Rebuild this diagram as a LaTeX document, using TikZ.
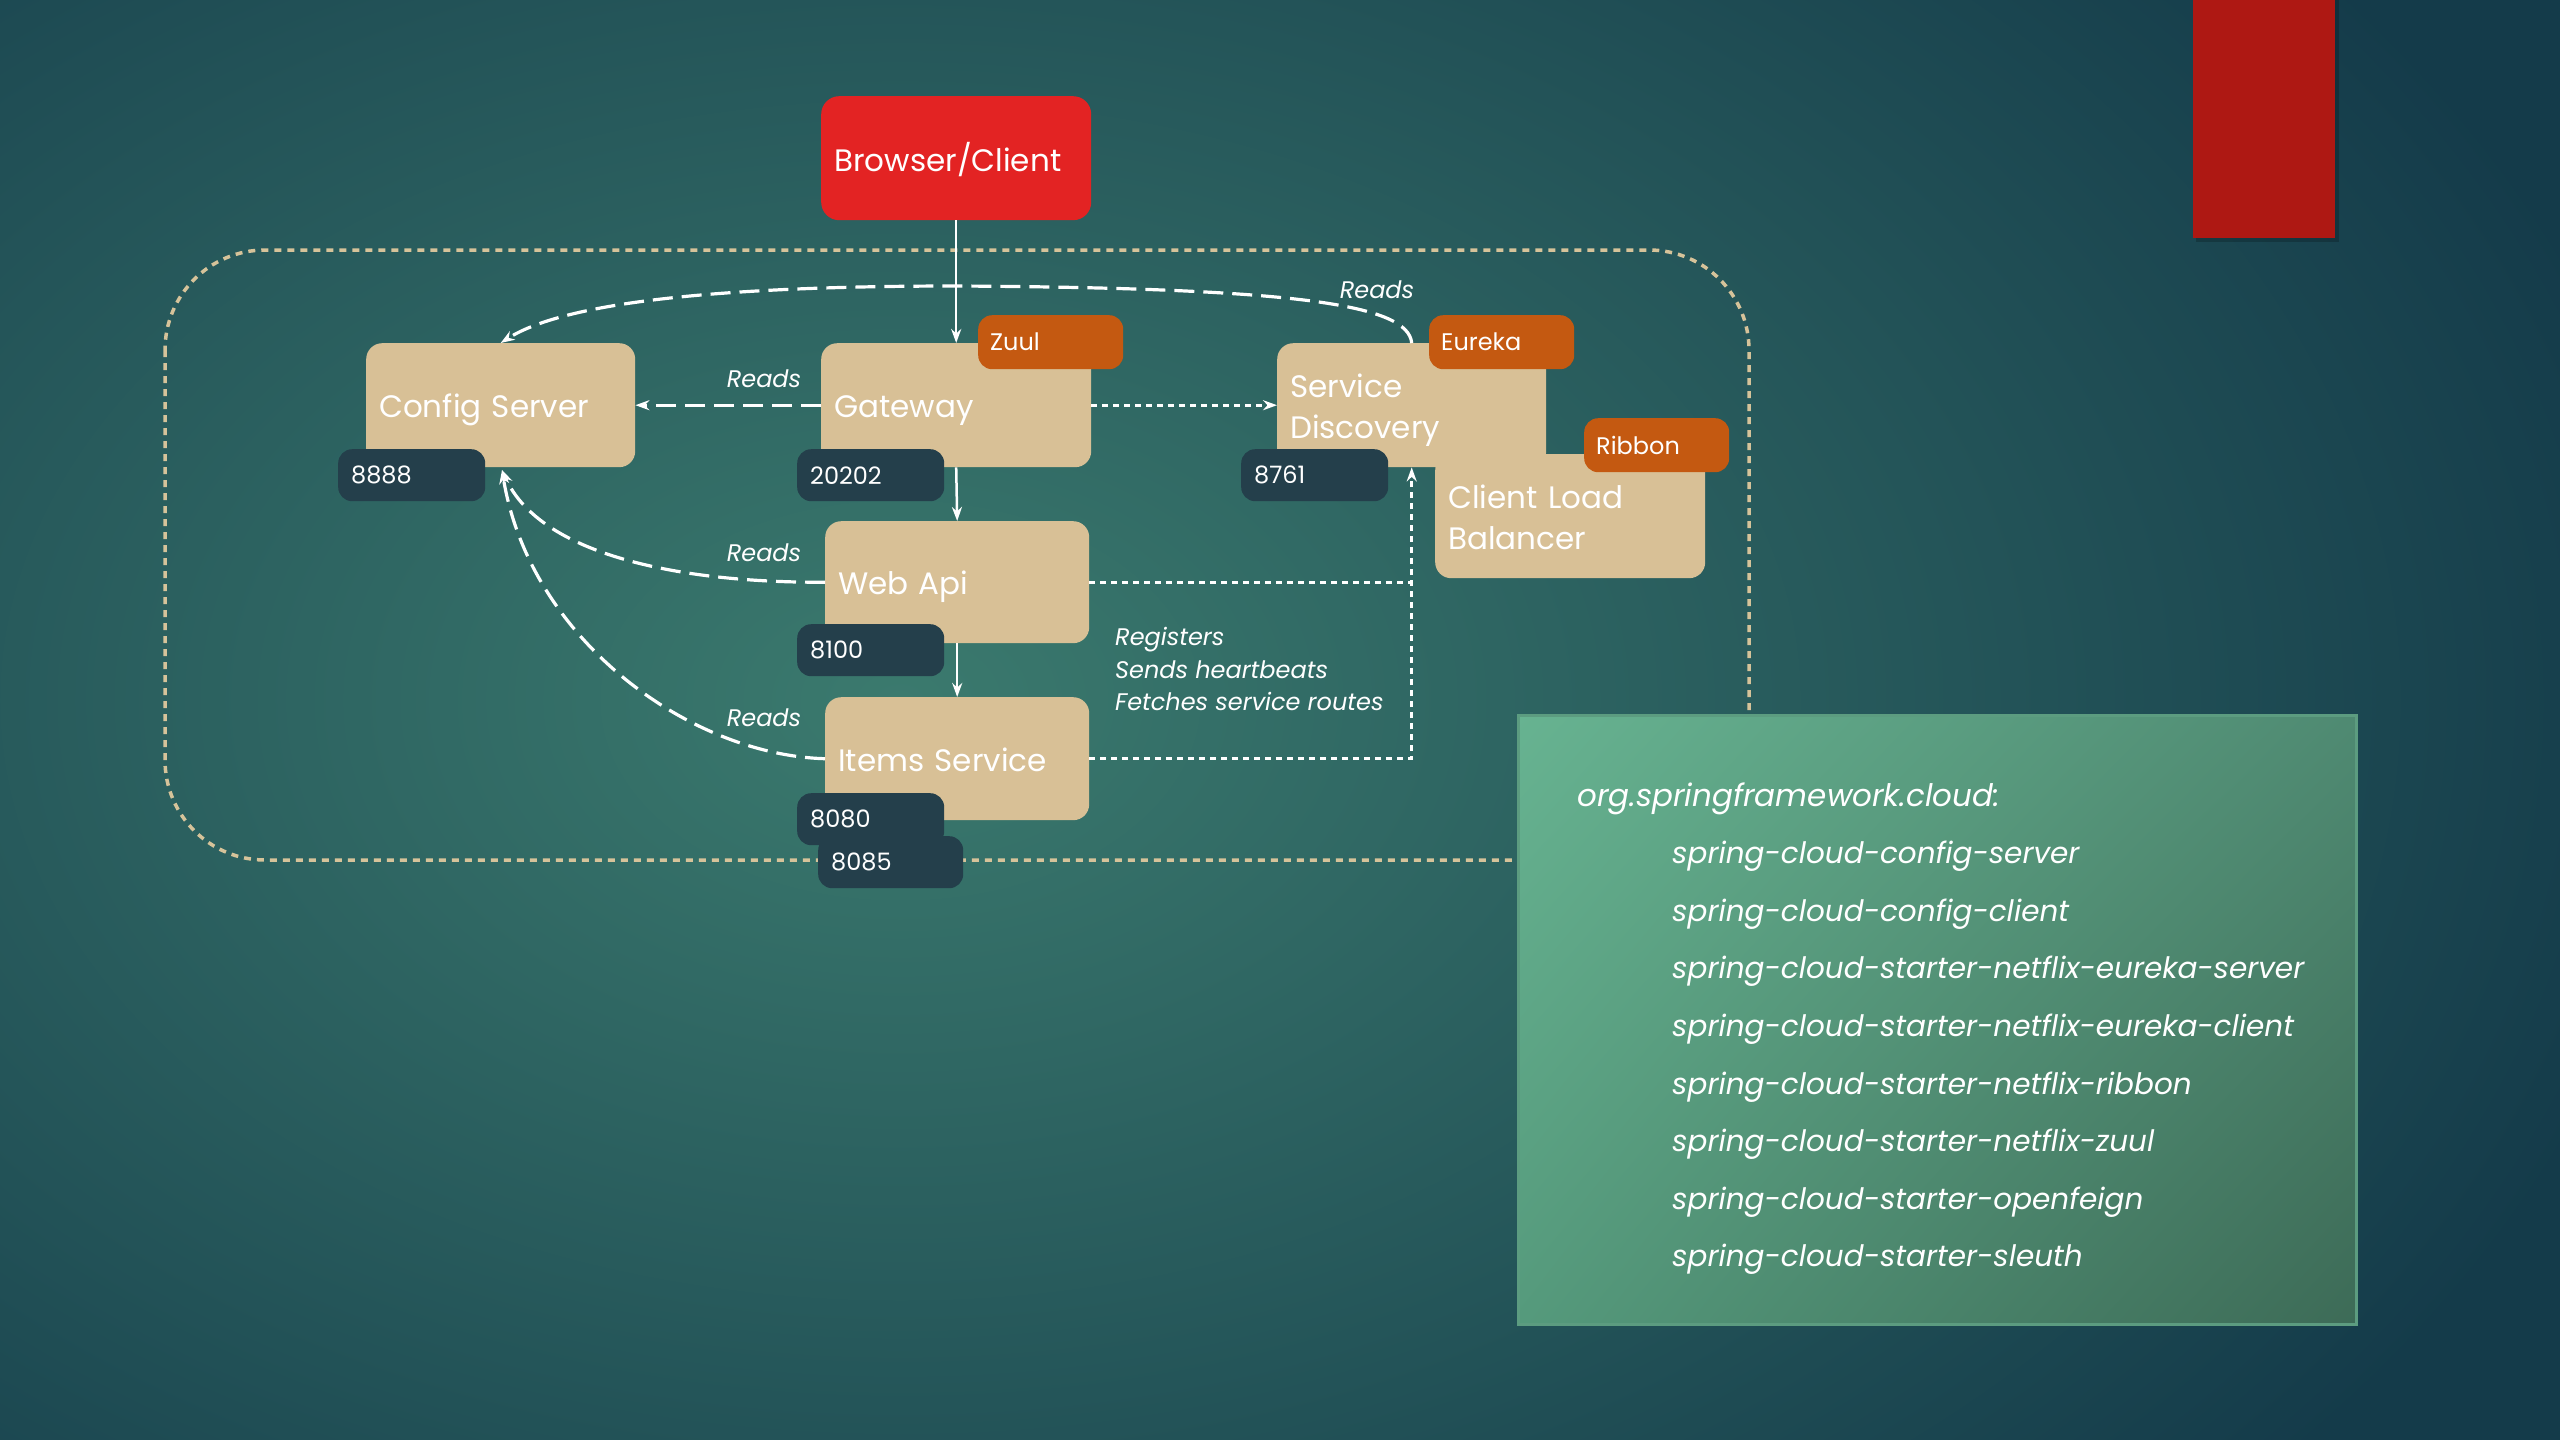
\documentclass[tikz,border=0pt]{standalone}
\usepackage{fontspec}
\setmainfont{Poppins}
\usetikzlibrary{arrows.meta,shadings}
\definecolor{tanc}{HTML}{D8C096}
\definecolor{portc}{HTML}{243F4B}
\definecolor{orangec}{HTML}{C45911}
\definecolor{redc}{HTML}{E32323}
\definecolor{barc}{HTML}{AE1813}
\definecolor{bgin}{HTML}{3B7A6E}
\definecolor{bgout}{HTML}{143B4A}
\definecolor{frame}{HTML}{D6C39A}
\definecolor{gUL}{HTML}{67B391}
\definecolor{gUR}{HTML}{4F8A72}
\definecolor{gLL}{HTML}{559A7C}
\definecolor{gLR}{HTML}{3D6B57}
\definecolor{gborder}{HTML}{5C9C80}
\begin{document}
\begin{tikzpicture}[x=1pt,y=-1pt,
  tanbox/.style={fill=tanc, rounded corners=16pt, anchor=north west, inner xsep=13pt, inner ysep=0pt, align=left, text=white, font=\fontsize{31}{39}\selectfont,
    execute at begin node={\rule[-7pt]{0pt}{40pt}}, execute at end node={\rule[-7pt]{0pt}{40pt}}},
  tag/.style={fill=orangec, rounded corners=14pt, anchor=north west, minimum height=54pt, text width=121pt, inner xsep=12pt, inner ysep=0pt, align=left, text=white, font=\fontsize{24}{29}\selectfont},
  port/.style={fill=portc, rounded corners=14pt, anchor=north west, minimum height=52pt, text width=121pt, inner xsep=13pt, inner ysep=0pt, align=left, text=white, font=\fontsize{24}{29}\selectfont},
  lbl/.style={text=white, font=\fontsize{24}{32.5}\selectfont\itshape, inner sep=0pt},
  dashline/.style={draw=white, line width=3.2pt, dash pattern=on 20pt off 9pt},
  dotline/.style={draw=white, line width=3pt, dash pattern=on 6pt off 5pt},
  tip/.style={-{Stealth[length=14pt,width=10pt]}},
  pkg/.style={text=white, font=\fontsize{29.5}{40}\selectfont\itshape, inner sep=0pt, anchor=base west}
]
\useasboundingbox (0,0) rectangle (2560,1440);
% background
\begin{scope}
\clip (0,0) rectangle (2560,1440);
\shade[inner color=bgin, outer color=bgout] (-900,-500) rectangle (2700,1900);
\end{scope}
% red bar
\fill[black, opacity=0.2] (2196,0) rectangle (2339,242);
\fill[barc] (2193,0) rectangle (2335,238);
% container
\draw[frame, line width=3.5pt, dash pattern=on 7pt off 6pt, rounded corners=100pt] (165,250) rectangle (1749,860);
% green box
\shade[upper left=gUL, upper right=gUR, lower left=gLL, lower right=gLR] (1518,715) rectangle (2356,1324);
\draw[gborder, line width=3pt] (1518,715) rectangle (2356,1324);
\node[pkg, font=\fontsize{31}{40}\selectfont\itshape] (p0) at (1577,806) {org.springframework.cloud:};
\foreach \t [count=\i] in {spring-cloud-config-server,spring-cloud-config-client,spring-cloud-starter-netflix-eureka-server,spring-cloud-starter-netflix-eureka-client,spring-cloud-starter-netflix-ribbon,spring-cloud-starter-netflix-zuul,spring-cloud-starter-openfeign,spring-cloud-starter-sleuth}
  \node[pkg] (p\i) at (1672,806+57.6*\i) {\t};
% nodes
\node[tanbox, fill=redc, rounded corners=18pt, text width=244pt, minimum height=124pt] (browser) at (821,96) {Browser/Client};
\node[tanbox, text width=243pt, minimum height=124pt] (config) at (366,343) {Config Server};
\node[port] (p8888) at (338,449) {8888};
\node[tanbox, text width=244pt, minimum height=124pt] (gateway) at (821,343) {Gateway};
\node[tag] (zuul) at (978,315) {Zuul};
\node[port] (p20202) at (797,449) {20202};
\node[tanbox, text width=243pt, minimum height=124pt] (sd) at (1277,343) {Service\\Discovery};
\node[tanbox, text width=244pt, minimum height=124pt] (clb) at (1435,454) {Client Load\\Balancer};
\node[tag] (eureka) at (1429,315) {Eureka};
\node[tag] (ribbon) at (1584,418) {Ribbon};
\node[port] (p8761) at (1241,449) {8761};
\node[tanbox, text width=238pt, minimum height=122pt] (webapi) at (825,521) {Web Api};
\node[port] (p8100) at (797,624) {8100};
\node[tanbox, text width=238pt, minimum height=123pt] (items) at (825,697) {Items Service};
\node[port] (p8080) at (797,793) {8080};
\node[port, text width=119pt] (p8085) at (818,836) {8085};
% connectors
\draw[white, line width=2.5pt, tip] (browser.south) -- (gateway.north);
\draw[white, line width=2.5pt, tip] (gateway.south) -- (webapi.north);
\draw[white, line width=2.5pt, tip] (webapi.south) -- (items.north);
\draw[dashline, tip] (gateway.west) -- (config.east);
\draw[dotline, tip] (gateway.east) -- (sd.west);
\coordinate (cin) at (502,470);
\draw[dashline, tip] (sd.north) .. controls (1408,305) and (1300,288) .. (957,286) .. controls (700,286) and (560,305) .. (config.north);
\draw[dashline, tip] (webapi.west) .. controls (680,583) and (540,555) .. (cin);
\draw[dashline, tip] (items.west) .. controls (690,755) and (530,640) .. (cin);
\draw[dotline] (webapi.east) -- (webapi.east -| sd.south);
\draw[dotline, tip] (items.east) -| (sd.south);
% labels
\node[lbl] (r1) at (764,379) {Reads};
\node[lbl] (r2) at (1377,290) {Reads};
\node[lbl] (r3) at (764,553) {Reads};
\node[lbl] (r4) at (764,718) {Reads};
\node[lbl, align=left, anchor=west] (reg) at (1115,669) {Registers\\Sends heartbeats\\Fetches service routes};
\end{tikzpicture}
\end{document}
